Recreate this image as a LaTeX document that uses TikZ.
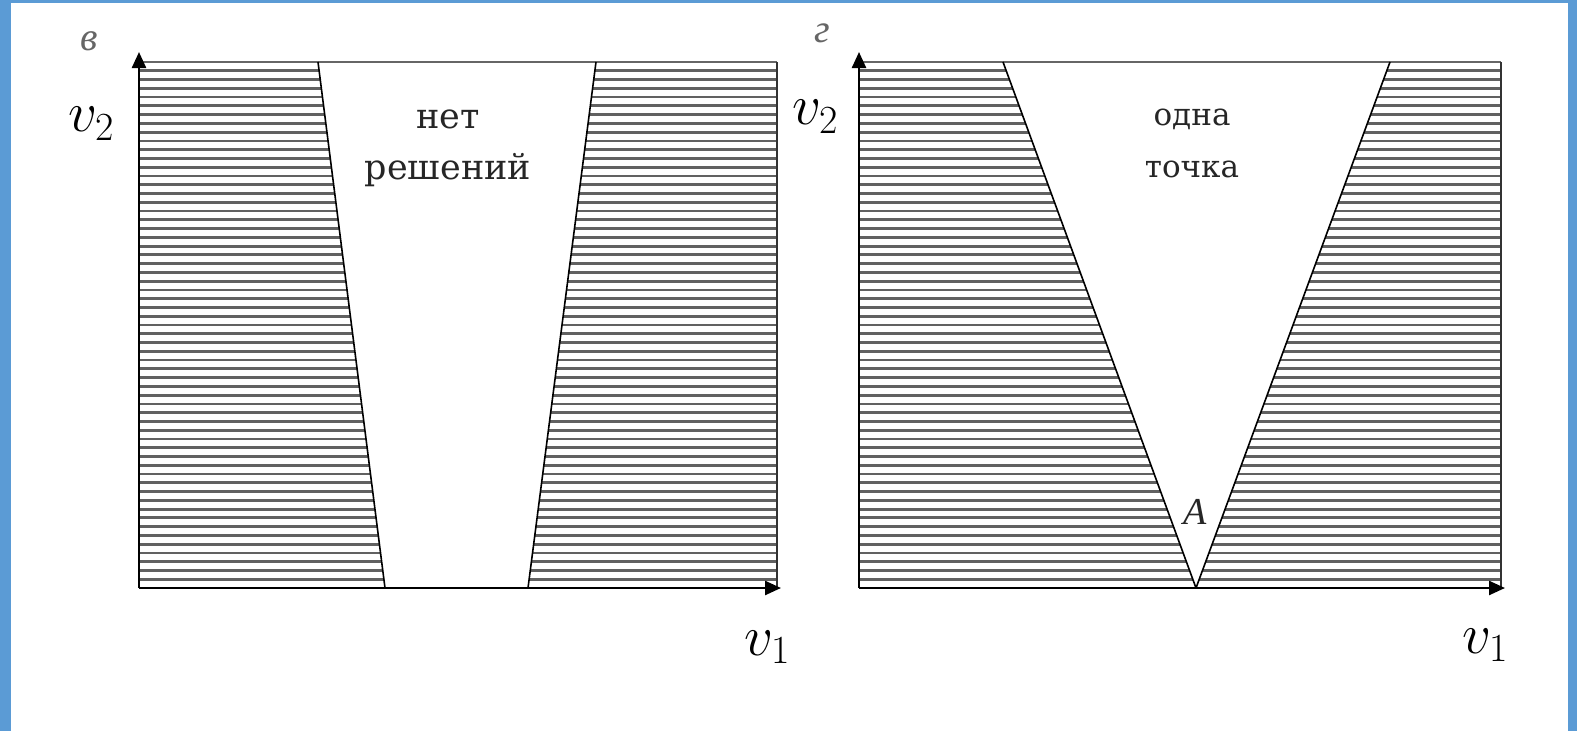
\documentclass[tikz,border=0pt]{standalone}
\usepackage{fix-cm}
\usepackage{fontspec}
\usetikzlibrary{arrows.meta}
\newfontfamily\labfont{DejaVu Serif}
\newfontfamily\itfont{Liberation Serif}
\definecolor{frameblue}{HTML}{5B9BD5}
\begin{document}
\begin{tikzpicture}[x=1pt,y=-1pt,
  hatch/.style={black!62,line width=2.8pt},
  edge/.style={black,line width=1.6pt},
  topline/.style={black!60,line width=2.6pt},
  border/.style={black!80,line width=1.8pt},
  axis/.style={black,line width=2.4pt,-{Triangle[length=16pt,width=14pt]}},
  axlabel/.style={font=\fontsize{57}{60}\selectfont, inner sep=0pt},
  regtext/.style={font=\labfont\fontsize{35}{45}\selectfont, text=black!85, inner sep=0pt},
  regtextb/.style={font=\labfont\fontsize{31}{40}\selectfont, text=black!85, inner sep=0pt},
  panel/.style={font=\itfont\itshape\fontsize{40}{44}\selectfont, text=black!60, inner sep=0pt},
  ptlabel/.style={font=\itfont\itshape\fontsize{38}{44}\selectfont, text=black!85, inner sep=0pt}]
% canvas and frame
\fill[white] (0,0) rectangle (1577,731);
\fill[frameblue] (0,0) rectangle (11,731);
\fill[frameblue] (0,0) rectangle (1577,3);
\fill[frameblue] (1568,0) rectangle (1577,731);
\useasboundingbox (0,0) rectangle (1577,731);

% ---------- left panel (в) ----------
\coordinate (LO) at (139,588);
\coordinate (LY) at (139,52);
\coordinate (LX) at (781,588);
\coordinate (LTL) at (139,62);
\coordinate (LTR) at (777,62);
\coordinate (LBR) at (777,588);
\coordinate (La) at (318,62);
\coordinate (Lb) at (385,588);
\coordinate (Lc) at (596,62);
\coordinate (Ld) at (528,588);

\begin{scope}
  \clip (LTL) -- (La) -- (Lb) -- (LO) -- cycle;
  \foreach \i in {0,...,60} \draw[hatch] (130,{62+\i*8.767}) -- (800,{62+\i*8.767});
\end{scope}
\begin{scope}
  \clip (Lc) -- (LTR) -- (LBR) -- (Ld) -- cycle;
  \foreach \i in {0,...,60} \draw[hatch] (130,{62+\i*8.767}) -- (800,{62+\i*8.767});
\end{scope}
\draw[topline] (LTL) -- (LTR);
\draw[border] (LTR) -- (LBR);
\draw[edge] (La) -- (Lb);
\draw[edge] (Lc) -- (Ld);
\draw[axis] (LO) -- (LY);
\draw[axis] (LO) -- (LX);

\node[panel] (pv) at (89,41) {в};
\node[axlabel] (Lv2) at (91,124) {$v_2$};
\node[axlabel] (Lv1) at (767,647) {$v_1$};
\node[regtext, anchor=base] (t1) at (448,128) {нет};
\node[regtext, anchor=base] (t2) at (448,179) {решений};

% ---------- right panel (г) ----------
\coordinate (RO) at (859,588);
\coordinate (RY) at (859,52);
\coordinate (RX) at (1505,588);
\coordinate (RTL) at (859,62);
\coordinate (RTR) at (1501,62);
\coordinate (RBR) at (1501,588);
\coordinate (Ra) at (1003,62);
\coordinate (RA) at (1196,588);
\coordinate (Rc) at (1390,62);

\begin{scope}
  \clip (RTL) -- (Ra) -- (RA) -- (RO) -- cycle;
  \foreach \i in {0,...,60} \draw[hatch] (850,{62+\i*8.767}) -- (1520,{62+\i*8.767});
\end{scope}
\begin{scope}
  \clip (Rc) -- (RTR) -- (RBR) -- (RA) -- cycle;
  \foreach \i in {0,...,60} \draw[hatch] (850,{62+\i*8.767}) -- (1520,{62+\i*8.767});
\end{scope}
\draw[topline] (RTL) -- (RTR);
\draw[border] (RTR) -- (RBR);
\draw[edge] (Ra) -- (RA);
\draw[edge] (Rc) -- (RA);
\draw[axis] (RO) -- (RY);
\draw[axis] (RO) -- (RX);

\node[panel] (pg) at (822,33) {г};
\node[axlabel, fill=white, minimum width=72pt, minimum height=78pt] (Rv2) at (815,117) {$v_2$};
\node[axlabel] (Rv1) at (1485,645) {$v_1$};
\node[regtextb, anchor=base] (t3) at (1192,125) {одна};
\node[regtextb, anchor=base] (t4) at (1192,177) {точка};
\node[ptlabel] (A) at (1195,512) {A};
\end{tikzpicture}
\end{document}
